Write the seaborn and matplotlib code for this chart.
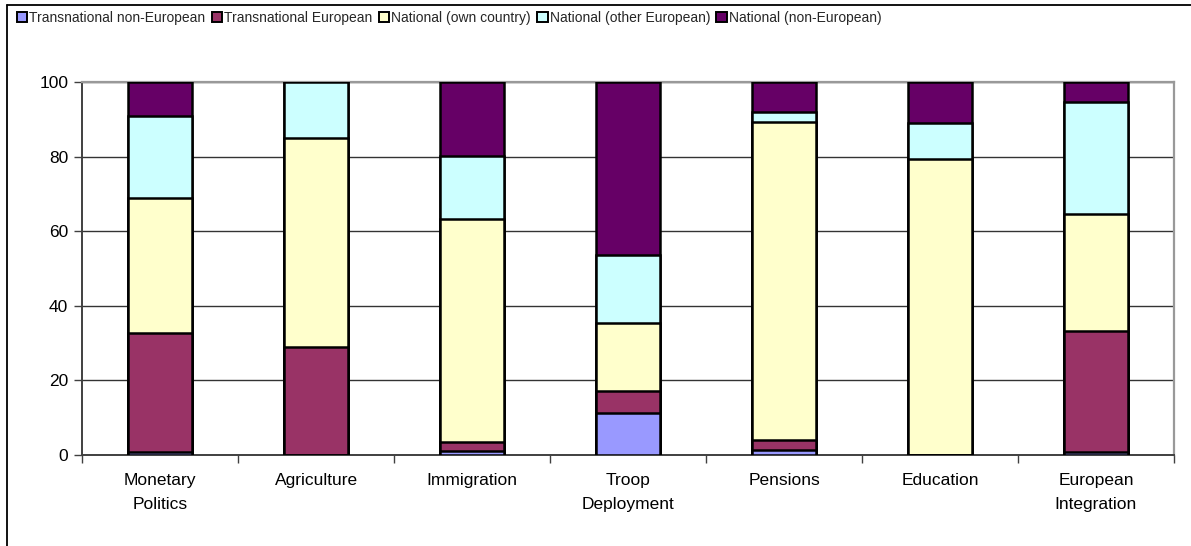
import numpy as np
import pandas as pd
import matplotlib
matplotlib.use("Agg")
import matplotlib.pyplot as plt
from matplotlib.patches import Patch
from matplotlib.lines import Line2D
import seaborn as sns

# Policy areas (x categories)
categories = ["Monetary\nPolitics", "Agriculture", "Immigration", "Troop\nDeployment",
              "Pensions", "Education", "European\nIntegration"]

# Share of actors per scope (percent), bottom to top of each stack
transnational_non_european = [0.8, 0.0, 1.2, 11.2, 1.3, 0.0, 0.7]
transnational_european     = [31.8, 28.9, 2.2, 6.0, 2.7, 0.0, 32.5]
national_own_country       = [36.2, 56.0, 59.9, 18.3, 85.4, 79.3, 31.4]
national_other_european    = [22.1, 15.1, 16.9, 18.1, 2.6, 9.6, 30.0]
national_non_european      = [9.1, 0.0, 19.8, 46.4, 8.0, 11.1, 5.4]

series_names = ["Transnational non-European", "Transnational European",
                "National (own country)", "National (other European)",
                "National (non-European)"]
series_values = [transnational_non_european, transnational_european,
                 national_own_country, national_other_european,
                 national_non_european]
series_colors = ["#9999FF", "#993366", "#FFFFCC", "#CCFFFF", "#660066"]

y_ticks = [0, 20, 40, 60, 80, 100]

sns.set_theme(style="white")
plt.rcParams["font.family"] = ["Liberation Sans", "DejaVu Sans"]

fig = plt.figure(figsize=(11.91, 5.46), dpi=100)
ax = fig.add_axes([0.0689, 0.1667, 0.9168, 0.6831])

df = pd.DataFrame({"category": categories})
cumulative = np.cumsum(np.array(series_values), axis=0)

# Stacked bars: draw cumulative totals from the top layer down
for i in range(len(series_names) - 1, -1, -1):
    df["total"] = cumulative[i]
    sns.barplot(data=df, x="category", y="total", order=categories,
                color=series_colors[i], saturation=1, width=0.41,
                edgecolor="black", linewidth=1.8, ax=ax, zorder=3)

ax.set_ylim(0, 100)
ax.set_xlim(-0.5, len(categories) - 0.5)
ax.set_yticks(y_ticks)
ax.set_yticklabels([str(t) for t in y_ticks], fontsize=12.5, color="black")
ax.set_xlabel("")
ax.set_ylabel("")

# Category labels centred, ticks at category boundaries
ax.set_xticks(range(len(categories)))
ax.set_xticklabels(categories, fontsize=12.5, color="black", linespacing=1.75)
ax.tick_params(axis="x", which="major", length=0, pad=13)
ax.set_xticks(np.arange(-0.5, len(categories)), minor=True)
ax.tick_params(axis="x", which="minor", length=6, width=1, color="#404040",
               direction="out", bottom=True)
ax.tick_params(axis="y", length=6, width=1, color="#404040", direction="out",
               left=True, pad=4)

# Horizontal grid lines
ax.yaxis.grid(True, color="#333333", linewidth=1)
ax.xaxis.grid(False)
ax.set_axisbelow(True)

for side in ["left", "bottom"]:
    ax.spines[side].set_color("#404040")
    ax.spines[side].set_linewidth(1.4)
for side in ["top", "right"]:
    ax.spines[side].set_visible(True)
    ax.spines[side].set_color("#999999")
    ax.spines[side].set_linewidth(1.6)

# Legend row across the top
handles = [Patch(facecolor=c, edgecolor="black", linewidth=1.4, label=n)
           for n, c in zip(series_names, series_colors)]
fig.legend(handles=handles, loc="upper left", bbox_to_anchor=(0.006, 0.998),
           ncol=5, frameon=False, fontsize=10, handlelength=0.75,
           handleheight=0.75, handletextpad=0.15, columnspacing=0.45,
           borderaxespad=0.3)

# Chart frame (left and top edges)
fig.add_artist(Line2D([0.006, 0.006], [0.0, 0.991], transform=fig.transFigure,
                      color="black", linewidth=1.3))
fig.add_artist(Line2D([0.006, 1.0], [0.991, 0.991], transform=fig.transFigure,
                      color="black", linewidth=1.3))

fig.savefig("out.png", dpi=100)
